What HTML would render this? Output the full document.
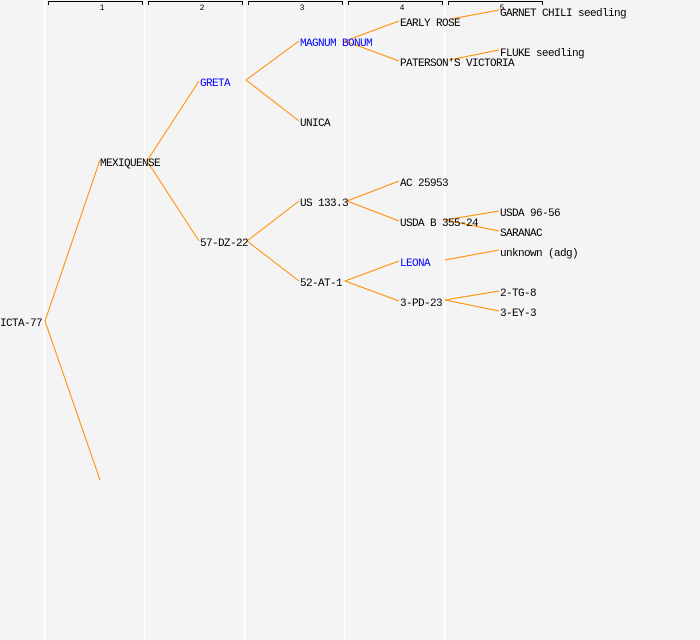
<!DOCTYPE html>
<html><head><meta charset="utf-8"><style>
html,body{margin:0;padding:0;background:#f4f4f4;}
svg{display:block;}
text{font-family:"Liberation Mono","DejaVu Sans Mono",monospace;font-size:11px;letter-spacing:-0.6px;fill:#000;}
.b{fill:#0000ff;}
</style></head><body>
<svg width="700" height="640" xmlns="http://www.w3.org/2000/svg">
<rect width="700" height="640" fill="#f4f4f4"/>
<g stroke="#ffffff" stroke-width="1.5">
<line x1="44.5" y1="0" x2="44.5" y2="640"/>
<line x1="144.5" y1="0" x2="144.5" y2="640"/>
<line x1="244.5" y1="0" x2="244.5" y2="640"/>
<line x1="344.5" y1="0" x2="344.5" y2="640"/>
<line x1="444.5" y1="0" x2="444.5" y2="640"/>
</g>
<g stroke="#000" stroke-width="1" fill="none">
<path d="M48.5,5 V1.5 H142.5 V5"/>
<path d="M148.5,5 V1.5 H242.5 V5"/>
<path d="M248.5,5 V1.5 H342.5 V5"/>
<path d="M348.5,5 V1.5 H442.5 V5"/>
<path d="M448.5,5 V1.5 H542.5 V5"/>
</g>
<g text-anchor="middle">
<text x="102" y="10" style="font-size:8px;letter-spacing:0">1</text>
<text x="202" y="10" style="font-size:8px;letter-spacing:0">2</text>
<text x="302" y="10" style="font-size:8px;letter-spacing:0">3</text>
<text x="402" y="10" style="font-size:8px;letter-spacing:0">4</text>
<text x="502" y="10" style="font-size:8px;letter-spacing:0">5</text>
</g>
<g stroke="#ff8c00" stroke-width="1" fill="none">
<polyline points="100,160 45,321 100,480"/>
<polyline points="199,81 147,161 199,241"/>
<polyline points="299,41 246,80 299,121"/>
<polyline points="299,201 247,241 299,281"/>
<polyline points="399,21 345,41 399,61"/>
<polyline points="399,181 347,201 399,221"/>
<polyline points="399,261 345,281 399,301"/>
<line x1="451" y1="19" x2="499" y2="10"/>
<line x1="449" y1="60" x2="499" y2="50"/>
<polyline points="499,211 445,220 499,231"/>
<line x1="445" y1="260" x2="499" y2="250"/>
<polyline points="499,291 445,300 499,311"/>
</g>
<text x="0" y="326">ICTA-77</text>
<text x="100" y="166">MEXIQUENSE</text>
<text x="200" y="86" class="b">GRETA</text>
<text x="200" y="246">57-DZ-22</text>
<text x="300" y="46" class="b">MAGNUM BONUM</text>
<text x="300" y="126">UNICA</text>
<text x="300" y="206">US 133.3</text>
<text x="300" y="286">52-AT-1</text>
<text x="400" y="26">EARLY ROSE</text>
<text x="400" y="66">PATERSON'S VICTORIA</text>
<text x="400" y="186">AC 25953</text>
<text x="400" y="226">USDA B 355-24</text>
<text x="400" y="266" class="b">LEONA</text>
<text x="400" y="306">3-PD-23</text>
<text x="500" y="16">GARNET CHILI seedling</text>
<text x="500" y="56">FLUKE seedling</text>
<text x="500" y="216">USDA 96-56</text>
<text x="500" y="236">SARANAC</text>
<text x="500" y="256">unknown (adg)</text>
<text x="500" y="296">2-TG-8</text>
<text x="500" y="316">3-EY-3</text>
</svg>
</body></html>
